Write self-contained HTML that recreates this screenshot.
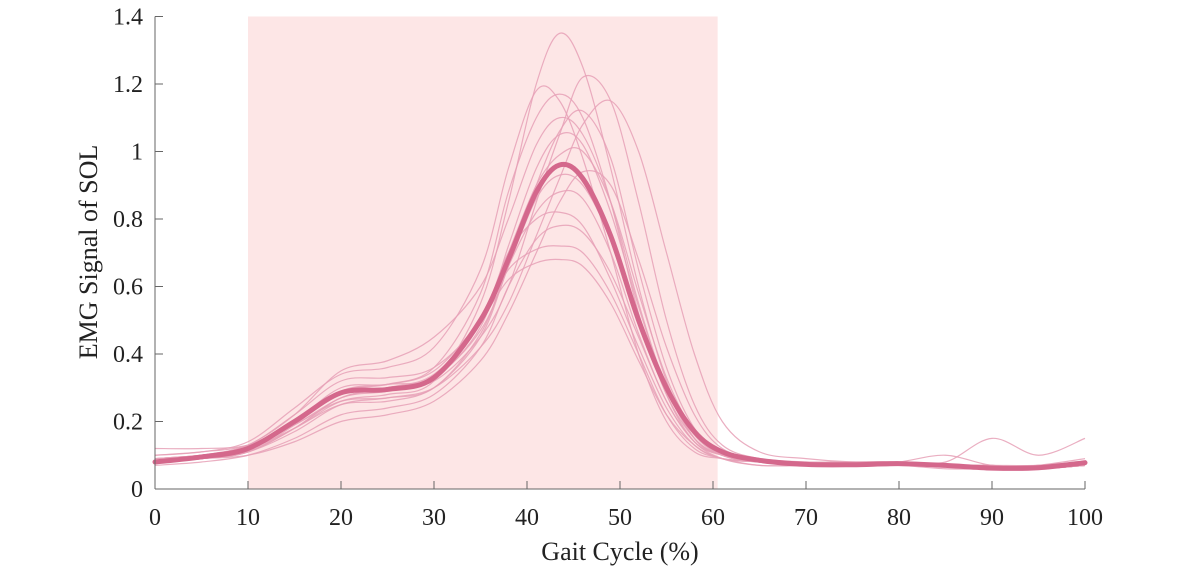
<!DOCTYPE html>
<html><head><meta charset="utf-8"><style>
html,body{margin:0;padding:0;background:#fff;}
svg text{font-family:"Liberation Serif",serif;fill:#222;}
</style></head><body>
<svg id="chart" width="1200" height="570" viewBox="0 0 1200 570" xmlns="http://www.w3.org/2000/svg">
<g id="shade"></g><g id="trials"></g><g id="meanG"></g><g id="axes"></g>
</svg>
<script>
const xs=[0,5,10,15,20,25,30,35,38,41,43.5,46,49,52,55,58,61,65,70,75,80,85,90,95,100];
const meanSeries=[0.08,0.095,0.12,0.2,0.285,0.295,0.33,0.5,0.68,0.88,0.96,0.92,0.75,0.5,0.3,0.17,0.11,0.085,0.073,0.072,0.075,0.07,0.062,0.063,0.078];
const trial1=[0.09,0.1,0.12,0.18,0.26,0.28,0.32,0.55,0.85,1.2,1.35,1.25,0.95,0.6,0.32,0.15,0.1,0.08,0.07,0.07,0.07,0.07,0.06,0.06,0.07];
const trial2=[0.08,0.09,0.11,0.18,0.27,0.3,0.32,0.45,0.6,0.85,1.05,1.22,1.15,0.85,0.5,0.25,0.13,0.09,0.08,0.08,0.08,0.07,0.07,0.07,0.08];
const trial3=[0.09,0.1,0.12,0.2,0.3,0.31,0.35,0.5,0.62,0.67,0.68,0.66,0.55,0.38,0.22,0.13,0.09,0.08,0.07,0.07,0.07,0.07,0.06,0.06,0.07];
const trial4=[0.08,0.09,0.11,0.17,0.25,0.27,0.3,0.42,0.55,0.75,0.92,1.08,1.15,1.0,0.7,0.4,0.2,0.11,0.09,0.08,0.08,0.08,0.15,0.1,0.15];
const trial5=[0.1,0.11,0.14,0.24,0.34,0.36,0.42,0.65,0.95,1.18,1.15,0.98,0.7,0.4,0.2,0.11,0.09,0.08,0.07,0.07,0.08,0.07,0.06,0.07,0.09];
const trial6=[0.07,0.08,0.1,0.15,0.22,0.24,0.28,0.42,0.6,0.74,0.78,0.76,0.64,0.45,0.26,0.14,0.09,0.07,0.07,0.07,0.07,0.06,0.06,0.06,0.07];
const trial7=[0.08,0.1,0.13,0.22,0.32,0.33,0.36,0.5,0.7,0.9,0.99,1.0,0.85,0.58,0.33,0.17,0.1,0.08,0.07,0.07,0.08,0.07,0.07,0.06,0.08];
const trial8=[0.09,0.1,0.12,0.19,0.26,0.27,0.3,0.46,0.66,0.82,0.88,0.86,0.7,0.46,0.26,0.14,0.1,0.08,0.07,0.07,0.07,0.07,0.06,0.06,0.07];
const trial9=[0.09,0.1,0.13,0.22,0.35,0.38,0.45,0.6,0.8,1.02,1.1,1.05,0.85,0.55,0.3,0.15,0.1,0.08,0.07,0.07,0.07,0.07,0.06,0.06,0.07];
const trial10=[0.08,0.09,0.1,0.14,0.2,0.22,0.26,0.38,0.52,0.7,0.85,0.94,0.9,0.68,0.42,0.22,0.12,0.09,0.08,0.08,0.08,0.07,0.06,0.06,0.08];
const trial11=[0.08,0.09,0.11,0.18,0.27,0.29,0.33,0.5,0.65,0.71,0.72,0.7,0.58,0.4,0.22,0.12,0.09,0.07,0.07,0.07,0.07,0.07,0.06,0.06,0.07];
const trial12=[0.1,0.11,0.13,0.2,0.29,0.31,0.36,0.58,0.88,1.1,1.17,1.1,0.85,0.52,0.28,0.14,0.1,0.08,0.07,0.07,0.08,0.07,0.06,0.07,0.08];
const trial13=[0.12,0.12,0.13,0.19,0.27,0.3,0.34,0.5,0.7,0.8,0.82,0.78,0.62,0.42,0.24,0.13,0.09,0.08,0.07,0.07,0.07,0.07,0.07,0.06,0.08];
const trial14=[0.08,0.09,0.11,0.19,0.29,0.31,0.33,0.48,0.72,0.95,1.05,1.02,0.82,0.54,0.3,0.16,0.1,0.08,0.07,0.07,0.07,0.07,0.06,0.06,0.07];
const trial15=[0.08,0.09,0.11,0.18,0.25,0.26,0.3,0.45,0.66,0.86,0.93,0.9,0.74,0.5,0.28,0.15,0.1,0.08,0.07,0.07,0.07,0.07,0.06,0.06,0.07];
const trial16=[0.08,0.09,0.12,0.2,0.28,0.3,0.33,0.47,0.66,0.9,1.06,1.12,0.98,0.65,0.36,0.18,0.11,0.08,0.07,0.07,0.08,0.1,0.07,0.07,0.08];
const trials=[trial1,trial2,trial3,trial4,trial5,trial6,trial7,trial8,trial9,trial10,trial11,trial12,trial13,trial14,trial15,trial16];
const xTicks=[0,10,20,30,40,50,60,70,80,90,100];
const yTicks=[0,0.2,0.4,0.6,0.8,1,1.2,1.4];
const shadeRange=[10,60.5];

const X0=155,X1=1085,Y0=489,Y1=16.5;
const sx=v=>X0+(X1-X0)*v/100;
const sy=v=>Y0-(Y0-Y1)*v/1.4;
const NS="http://www.w3.org/2000/svg";
function mk(tag,attrs,parent){const e=document.createElementNS(NS,tag);for(const k in attrs)e.setAttribute(k,attrs[k]);parent.appendChild(e);return e;}
function pathD(ys){
  const p=xs.map((x,i)=>[sx(x),sy(ys[i])]);
  let d=`M${p[0][0]},${p[0][1]}`;
  for(let i=0;i<p.length-1;i++){
    const a=p[i-1]||p[i],b=p[i],c=p[i+1],e=p[i+2]||c;
    const c1=[b[0]+(c[0]-a[0])/6,b[1]+(c[1]-a[1])/6];
    const c2=[c[0]-(e[0]-b[0])/6,c[1]-(e[1]-b[1])/6];
    d+=` C${c1[0]},${c1[1]} ${c2[0]},${c2[1]} ${c[0]},${c[1]}`;
  }
  return d;
}
const shade=document.getElementById('shade');
const r=mk('rect',{x:sx(shadeRange[0]),y:Y1,width:sx(shadeRange[1])-sx(shadeRange[0]),height:Y0-Y1,fill:'#fde6e6'},shade);


const tg=document.getElementById('trials');
trials.forEach((t,i)=>{
  const p=mk('path',{d:pathD(t),fill:'none',stroke:'#e6a0b6','stroke-width':1.2,'stroke-opacity':0.85},tg);
  
  
});
const mp=mk('path',{d:pathD(meanSeries),fill:'none',stroke:'#d4688c','stroke-width':5,'stroke-linecap':'round'},document.getElementById('meanG'));


const ax=document.getElementById('axes');
const xl=mk('line',{x1:X0,y1:Y0,x2:X1,y2:Y0,stroke:'#666','stroke-width':1},ax);


const yl=mk('line',{x1:X0,y1:Y0,x2:X0,y2:Y1,stroke:'#666','stroke-width':1},ax);


xTicks.forEach(v=>{
  mk('line',{x1:sx(v),y1:Y0,x2:sx(v),y2:Y0-8,stroke:'#666'},ax);
  const t=mk('text',{x:sx(v),y:Y0+36,'text-anchor':'middle','font-size':24},ax);
  t.textContent=v;
  
  
});
yTicks.forEach(v=>{
  mk('line',{x1:X0,y1:sy(v),x2:X0+8,y2:sy(v),stroke:'#666'},ax);
  const t=mk('text',{x:X0-12,y:sy(v)+8,'text-anchor':'end','font-size':24},ax);
  t.textContent=String(v);
  
  
});
const xt=mk('text',{x:620,y:560,'text-anchor':'middle','font-size':26},ax);
xt.textContent='Gait Cycle (%)';


const yt=mk('text',{x:0,y:0,'text-anchor':'middle','font-size':26,transform:`translate(97,252) rotate(-90)`},ax);
yt.textContent='EMG Signal of SOL';


</script>
</body></html>
